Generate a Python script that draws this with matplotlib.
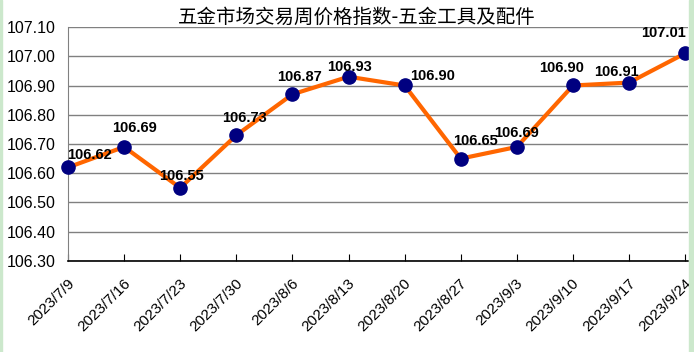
import matplotlib
matplotlib.use('Agg')
import matplotlib.pyplot as plt
import matplotlib.transforms as mtransforms
from matplotlib.patches import Rectangle

plt.rcParams['font.family'] = ['Liberation Sans', 'Noto Sans CJK SC', 'DejaVu Sans']

dates = ['2023/7/9', '2023/7/16', '2023/7/23', '2023/7/30', '2023/8/6', '2023/8/13',
         '2023/8/20', '2023/8/27', '2023/9/3', '2023/9/10', '2023/9/17', '2023/9/24']
values = [106.62, 106.69, 106.55, 106.73, 106.87, 106.93,
          106.90, 106.65, 106.69, 106.90, 106.91, 107.01]
title = '五金市场交易周价格指数-五金工具及配件'

# label offsets in pixels (dx, dy up) of text centre from the point
label_offsets = [(22, 12), (10, 19), (1, 12), (8, 17), (7, 17), (1, 10),
                 (28, 9), (15, 18), (0, 14), (-11, 17), (-13, 11), (-22, 20)]

fig = plt.figure(figsize=(6.94, 3.52), dpi=100)
fig.patches.append(Rectangle((0, 0), 2 / 694, 1, transform=fig.transFigure,
                             color='#cce8cc', zorder=0))
fig.patches.append(Rectangle((689 / 694, 0), 5 / 694, 1, transform=fig.transFigure,
                             color='#cce8cc', zorder=0))

ax = fig.add_axes([68 / 694, 91 / 352, 620 / 694, 234 / 352])
x = list(range(len(values)))
ax.plot(x, values, color='#ff6600', lw=3, marker='o', markersize=9.5,
        markerfacecolor='#000080', markeredgecolor='#000080', zorder=3, clip_on=False)

for xi, v, (dx, dy) in zip(x, values, label_offsets):
    ax.annotate(f'{v:.2f}', (xi, v), xytext=(dx * 0.72, dy * 0.72), textcoords='offset points',
                ha='center', va='center', fontsize=10.5, fontweight='bold', zorder=4)

ax.set_xlim(0, 11.05)
ax.set_ylim(106.30, 107.10)
ax.set_yticks([106.30 + 0.1 * i for i in range(9)])
ax.set_yticklabels([f'{106.30 + 0.1 * i:.2f}' for i in range(9)], fontsize=11.5)
ax.yaxis.grid(True, color='#808080', lw=1)
ax.set_axisbelow(True)
ax.tick_params(axis='y', length=0, pad=9)

ax.set_xticks(x)
ax.set_xticklabels(dates, fontsize=11, rotation=45, ha='right', va='top', rotation_mode='anchor')
ax.tick_params(axis='x', direction='in', length=5, color='black', pad=4)
offset = mtransforms.ScaledTranslation(-1 / 100, -10 / 100, fig.dpi_scale_trans)
for lbl in ax.get_xticklabels():
    lbl.set_transform(lbl.get_transform() + offset)

for s in ['top', 'right']:
    ax.spines[s].set_visible(False)
ax.spines['left'].set_color('#808080')
ax.spines['bottom'].set_color('black')
ax.spines['bottom'].set_linewidth(1.2)

fig.text(357 / 694, 1 - 17 / 352, title, ha='center', va='center', fontsize=14,
         family=['Noto Sans CJK SC', 'DejaVu Sans'])

fig.savefig('out.png', dpi=100)
